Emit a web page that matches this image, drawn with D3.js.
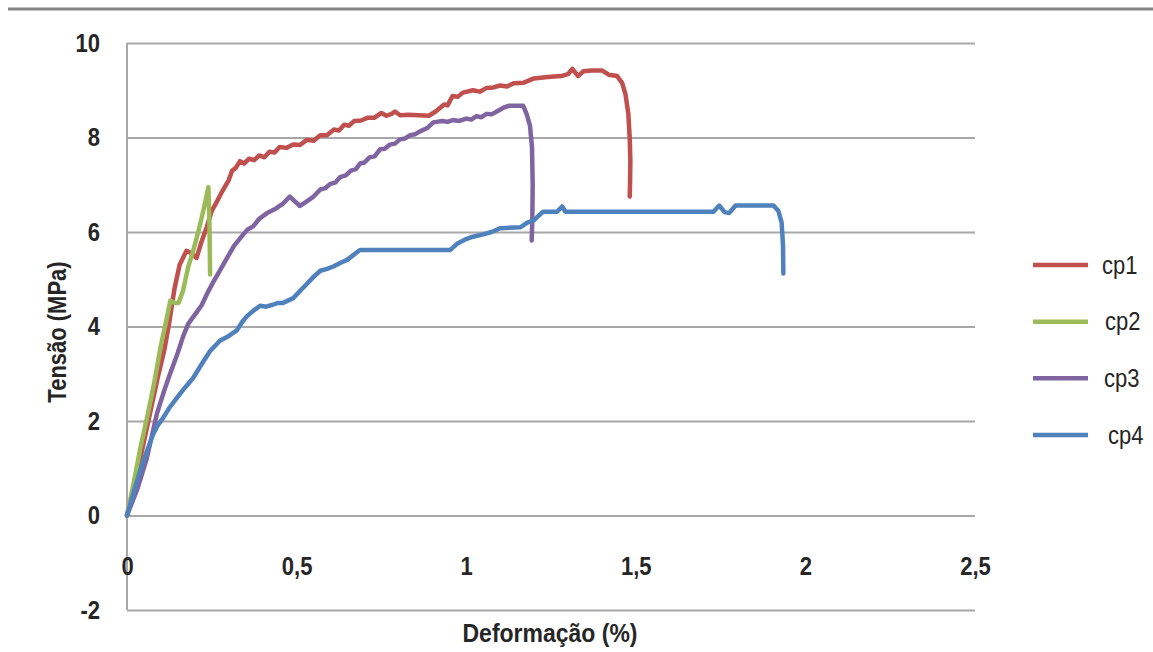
<!DOCTYPE html>
<html>
<head>
<meta charset="utf-8">
<script src="https://cdn.jsdelivr.net/npm/d3@7/dist/d3.min.js"></script>
<style>
  html, body { margin: 0; padding: 0; background: #fff; }
  svg { display: block; }
  text { font-family: "Liberation Sans", Arial, sans-serif; fill: #262626; }
  /* slightly taller lettering */
  text.tall { transform-box: fill-box; transform-origin: center; transform: scaleY(1.15); }
</style>
</head>
<body>
<svg id="chart" width="1153" height="652"></svg>
<script>
// Stress–strain curves of four specimens (strain in %, stress in MPa)
const seriesNames = ["cp1", "cp2", "cp3", "cp4"];
const seriesColors = ["#C0504D", "#9BBB59", "#8064A2", "#4F81BD"];

const cp1 = [
  [0,0],[0.03,0.9],[0.06,1.9],[0.09,2.9],[0.11,3.5],[0.125,4.1],[0.14,4.8],[0.155,5.3],
  [0.175,5.6],[0.19,5.55],[0.205,5.45],[0.22,5.8],[0.235,6.1],[0.25,6.45],[0.262,6.6],
  [0.28,6.85],[0.3,7.1],[0.31,7.3],[0.32,7.35],[0.333,7.5],[0.345,7.45],[0.36,7.55],
  [0.375,7.52],[0.39,7.62],[0.405,7.58],[0.42,7.7],[0.435,7.68],[0.45,7.8],[0.47,7.78],
  [0.49,7.85],[0.51,7.84],[0.53,7.95],[0.55,7.93],[0.57,8.05],[0.59,8.05],[0.61,8.17],
  [0.625,8.15],[0.64,8.27],[0.655,8.25],[0.67,8.35],[0.69,8.36],[0.71,8.42],[0.73,8.42],
  [0.75,8.52],[0.765,8.46],[0.78,8.5],[0.79,8.55],[0.805,8.47],[0.83,8.48],[0.86,8.47],
  [0.89,8.46],[0.91,8.55],[0.935,8.7],[0.945,8.68],[0.96,8.88],[0.975,8.86],[0.99,8.95],
  [1.02,9.0],[1.04,8.97],[1.06,9.05],[1.08,9.06],[1.1,9.1],[1.12,9.08],[1.14,9.15],
  [1.17,9.16],[1.2,9.25],[1.24,9.28],[1.28,9.3],[1.3,9.34],[1.313,9.45],[1.33,9.3],
  [1.345,9.4],[1.37,9.42],[1.4,9.42],[1.42,9.33],[1.445,9.3],[1.46,9.15],[1.47,8.9],
  [1.478,8.5],[1.482,8.0],[1.484,7.5],[1.483,7.0],[1.482,6.75]
];

const cp2 = [
  [0,0],[0.02,0.7],[0.04,1.45],[0.06,2.1],[0.08,2.8],[0.1,3.6],[0.115,4.1],[0.128,4.55],
  [0.14,4.5],[0.152,4.5],[0.165,4.75],[0.18,5.25],[0.195,5.6],[0.21,6.0],[0.225,6.45],
  [0.24,6.95],[0.243,6.2],[0.245,5.1]
];

const cp3 = [
  [0,0],[0.03,0.55],[0.058,1.2],[0.088,2.15],[0.11,2.65],[0.127,3.0],[0.15,3.45],
  [0.165,3.78],[0.18,4.05],[0.19,4.15],[0.205,4.3],[0.22,4.45],[0.24,4.75],[0.255,4.95],
  [0.275,5.2],[0.295,5.45],[0.315,5.7],[0.335,5.88],[0.355,6.05],[0.372,6.12],[0.39,6.28],
  [0.413,6.4],[0.435,6.48],[0.46,6.6],[0.48,6.75],[0.495,6.65],[0.51,6.55],[0.53,6.65],
  [0.55,6.75],[0.57,6.9],[0.585,6.93],[0.6,7.02],[0.615,7.05],[0.628,7.16],[0.645,7.2],
  [0.66,7.3],[0.675,7.33],[0.687,7.45],[0.7,7.47],[0.715,7.58],[0.73,7.6],[0.746,7.75],
  [0.76,7.76],[0.775,7.85],[0.79,7.87],[0.805,7.96],[0.82,7.98],[0.835,8.05],[0.85,8.07],
  [0.864,8.13],[0.885,8.2],[0.903,8.32],[0.93,8.35],[0.945,8.33],[0.96,8.37],[0.98,8.35],
  [1.0,8.4],[1.015,8.38],[1.03,8.45],[1.045,8.43],[1.06,8.5],[1.075,8.49],[1.09,8.55],
  [1.11,8.63],[1.125,8.67],[1.168,8.67],[1.178,8.5],[1.188,8.25],[1.194,7.8],[1.196,7.0],
  [1.195,6.3],[1.193,5.82]
];

const cp4 = [
  [0,0],[0.02,0.5],[0.038,0.93],[0.058,1.35],[0.077,1.72],[0.09,1.9],[0.106,2.06],
  [0.125,2.28],[0.147,2.49],[0.17,2.7],[0.195,2.91],[0.22,3.2],[0.245,3.48],[0.274,3.7],
  [0.3,3.8],[0.324,3.92],[0.34,4.1],[0.354,4.22],[0.372,4.33],[0.392,4.44],[0.41,4.42],
  [0.43,4.46],[0.445,4.5],[0.46,4.5],[0.49,4.6],[0.51,4.75],[0.53,4.9],[0.55,5.05],
  [0.57,5.18],[0.59,5.22],[0.608,5.27],[0.63,5.35],[0.649,5.41],[0.665,5.5],[0.687,5.62],
  [0.953,5.62],[0.973,5.75],[1.0,5.85],[1.02,5.9],[1.05,5.95],[1.075,6.0],[1.1,6.08],
  [1.16,6.1],[1.18,6.2],[1.2,6.25],[1.215,6.35],[1.227,6.43],[1.268,6.43],[1.283,6.54],
  [1.292,6.43],[1.729,6.43],[1.746,6.56],[1.762,6.42],[1.775,6.4],[1.794,6.56],
  [1.906,6.56],[1.92,6.45],[1.93,6.2],[1.934,5.7],[1.935,5.12]
];

const xTicks = [0, 0.5, 1, 1.5, 2, 2.5];
const yTicks = [-2, 0, 2, 4, 6, 8, 10];
const xTitle = "Deformação (%)";
const yTitle = "Tensão (MPa)";

const allSeries = [cp1, cp2, cp3, cp4];

// ---- layout ----
const svg = d3.select("#chart");
const plot = { left: 127, right: 975, top: 43, bottom: 610 };

const x = d3.scaleLinear().domain([0, 2.5]).range([plot.left, plot.right]);
const y = d3.scaleLinear().domain([-2, 10]).range([plot.bottom, plot.top]);
const fmt = d => String(d).replace(".", ",");

// frame line across the top of the chart area
svg.append("line")
  .attr("x1", 8).attr("x2", 1153).attr("y1", 9).attr("y2", 9)
  .attr("stroke", "#858585").attr("stroke-width", 3);

// horizontal gridlines with value labels
const yAxis = svg.append("g")
  .attr("transform", `translate(${plot.left},0)`)
  .call(d3.axisLeft(y).tickValues(yTicks).tickFormat(fmt)
    .tickSize(-(plot.right - plot.left)).tickPadding(27));
yAxis.select(".domain").remove();
yAxis.selectAll(".tick line").attr("stroke", "#a8a8a8").attr("stroke-width", 2);
yAxis.selectAll(".tick text")
  .attr("class", "tall")
  .style("font-size", "22px").style("font-weight", "bold").attr("fill", "#262626");

// vertical axis line
svg.append("line")
  .attr("x1", x(0)).attr("x2", x(0)).attr("y1", y(10)).attr("y2", y(-2))
  .attr("stroke", "#a8a8a8").attr("stroke-width", 2);

// category labels along the zero line
const xAxis = svg.append("g")
  .attr("transform", `translate(0,${y(0)})`)
  .call(d3.axisBottom(x).tickValues(xTicks).tickFormat(fmt).tickSize(0).tickPadding(43));
xAxis.select(".domain").remove();
xAxis.selectAll(".tick text")
  .attr("class", "tall")
  .style("font-size", "22px").style("font-weight", "bold").attr("fill", "#262626");

// axis titles
svg.append("text")
  .attr("class", "tall")
  .attr("x", 550).attr("y", 641)
  .attr("text-anchor", "middle")
  .style("font-size", "23px").style("font-weight", "bold")
  .text(xTitle);

svg.append("g")
  .attr("transform", `translate(65,332) rotate(-90)`)
  .append("text")
  .attr("class", "tall")
  .attr("text-anchor", "middle")
  .style("font-size", "22px").style("font-weight", "bold")
  .text(yTitle);

// curves
const line = d3.line().x(d => x(d[0])).y(d => y(d[1]));
svg.append("g")
  .selectAll("path")
  .data(allSeries)
  .join("path")
  .attr("d", line)
  .attr("fill", "none")
  .attr("stroke", (d, i) => seriesColors[i])
  .attr("stroke-width", 4.5)
  .attr("stroke-linejoin", "round")
  .attr("stroke-linecap", "round");

// legend
const legendY = d3.scalePoint().domain(seriesNames).range([265, 435]);
const legend = svg.append("g")
  .selectAll("g")
  .data(seriesNames)
  .join("g")
  .attr("transform", d => `translate(1033,${legendY(d)})`);
legend.append("line")
  .attr("x1", 0).attr("x2", 55)
  .attr("stroke", (d, i) => seriesColors[i])
  .attr("stroke-width", 4.5);
legend.append("text")
  .attr("class", "tall")
  .attr("x", (d, i) => [69, 72, 71, 75][i])
  .attr("dy", "0.35em")
  .style("font-size", "22px")
  .text(d => d);
</script>
</body>
</html>
